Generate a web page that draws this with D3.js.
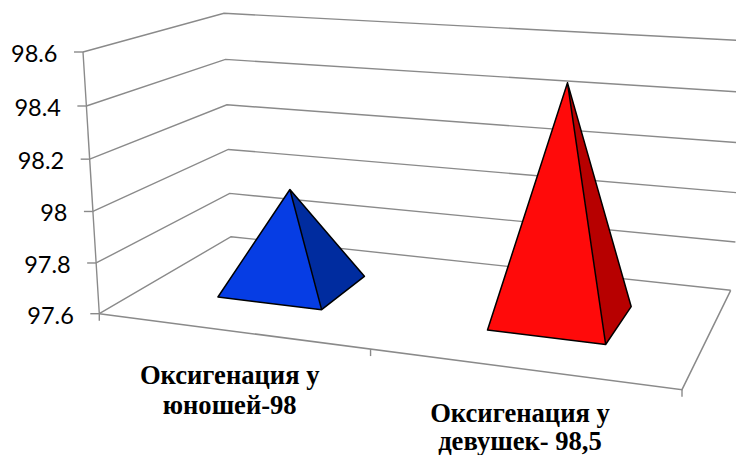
<!DOCTYPE html>
<html><head><meta charset="utf-8">
<script src="https://cdn.jsdelivr.net/npm/d3@7"></script>
<style>html,body{margin:0;background:#fff}svg{display:block}</style></head><body><svg id="chart" width="736" height="455"></svg>
<script>
// Chart data
const categories = ["Оксигенация у юношей-98", "Оксигенация у девушек- 98,5"];
const labelLines = [["Оксигенация у", "юношей-98"], ["Оксигенация у", "девушек- 98,5"]];
const values = [98, 98.5];
const tickValues = [97.6, 97.8, 98, 98.2, 98.4, 98.6];
const tickLabels = ["97.6", "97.8", "98", "98.2", "98.4", "98.6"];
const frontColors = ["#063de4", "#ff0a0a"];
const sideColors = ["#002c9f", "#b70000"];

// The box of the 3-D plot: corners of the floor and of the top plane, in screen space
const floorBox = { fl: [99.3, 313.7], fr: [682, 389.7], br: [730.7, 290.3], bl: [231, 236.7] };
const topBox = { fl: [83, 52], fr: [706, 96], br: [755, 41.2], bl: [224, 13.3] };

const svg = d3.select("#chart");
const grey = "#8a8a8a";

// Positions along the width and the depth of the floor, both in 0..1
const xBand = d3.scaleBand(categories, [0, 1]).paddingInner(0.6).paddingOuter(0.3);
const depth = d3.scaleLinear([0, 1], [0.3, 0.7]);
const valueScale = d3.scaleLinear([97.6, 98.6], [0, 1]);

// Vertical foreshortening of the value axis
const lift = v => { const w = valueScale(v); return w / (w + (1 - w) * 1.04); };

// Projective map from the unit square onto a quadrilateral
function quadMap(a, b, c, d) {
  const dx1 = b[0] - c[0], dx2 = d[0] - c[0], sx = a[0] - b[0] + c[0] - d[0];
  const dy1 = b[1] - c[1], dy2 = d[1] - c[1], sy = a[1] - b[1] + c[1] - d[1];
  const den = dx1 * dy2 - dx2 * dy1;
  const g = (sx * dy2 - dx2 * sy) / den, h = (dx1 * sy - sx * dy1) / den;
  return (u, v) => {
    const w = g * u + h * v + 1;
    return [((b[0] - a[0] + g * b[0]) * u + (d[0] - a[0] + h * d[0]) * v + a[0]) / w,
            ((b[1] - a[1] + g * b[1]) * u + (d[1] - a[1] + h * d[1]) * v + a[1]) / w];
  };
}

// Screen position of a point given by width, depth and value
function project(u, v, value) {
  const t = lift(value);
  const mix = k => d3.interpolateArray(floorBox[k], topBox[k])(t);
  return quadMap(mix("fl"), mix("fr"), mix("br"), mix("bl"))(u, v);
}

const line = d3.line();
const axisMin = tickValues[0];

// Gridlines along the left wall and the back wall
svg.append("g").selectAll("path").data(tickValues).join("path")
  .attr("d", v => line([project(0, 0, v), project(0, 1, v), project(1, 1, v)]))
  .attr("fill", "none").attr("stroke", grey).attr("stroke-width", 1.4);

// Floor outline
svg.append("path")
  .attr("d", line([project(0, 0, axisMin), project(1, 0, axisMin), project(1, 1, axisMin)]))
  .attr("fill", "none").attr("stroke", grey).attr("stroke-width", 1.5);

// Value axis and its tick marks
svg.append("path")
  .attr("d", line([project(0, 0, axisMin), project(0, 0, tickValues[5])]))
  .attr("stroke", grey).attr("stroke-width", 1.4);
svg.append("g").selectAll("line").data(tickValues).join("line")
  .attr("x1", v => project(0, 0, v)[0] - 9).attr("x2", v => project(0, 0, v)[0])
  .attr("y1", v => project(0, 0, v)[1]).attr("y2", v => project(0, 0, v)[1])
  .attr("stroke", grey).attr("stroke-width", 1.4);

// Category tick marks on the front edge of the floor
svg.append("g").selectAll("line").data([0, 0.5, 1]).join("line")
  .attr("x1", u => project(u, 0, axisMin)[0]).attr("x2", u => project(u, 0, axisMin)[0])
  .attr("y1", u => project(u, 0, axisMin)[1]).attr("y2", u => project(u, 0, axisMin)[1] + 7)
  .attr("stroke", grey).attr("stroke-width", 1.4);

// Value labels
svg.append("g").selectAll("text").data(tickValues).join("text")
  .attr("x", v => project(0, 0, v)[0] - 25.5)
  .attr("y", v => project(0, 0, v)[1] + 10)
  .attr("text-anchor", "end")
  .attr("font-family", "Lato, 'Open Sans', sans-serif").attr("font-size", 23.5).attr("fill", "#000")
  .text((v, i) => tickLabels[i]);

// Pyramids: front and right faces, apex above the centre of the base
const pyramids = svg.append("g").selectAll("g").data(categories).join("g");
pyramids.each(function (c, i) {
  const u0 = xBand(c), u1 = u0 + xBand.bandwidth();
  const a = project(u0, depth(0), axisMin), b = project(u1, depth(0), axisMin);
  const d = project(u1, depth(1), axisMin);
  const apex = project((u0 + u1) / 2, depth(0.5), values[i]);
  const g = d3.select(this);
  g.append("path").attr("d", line([apex, b, d]) + "Z").attr("fill", sideColors[i]);
  g.append("path").attr("d", line([apex, a, b]) + "Z").attr("fill", frontColors[i]);
  g.append("path").attr("d", line([a, b, d, apex]) + "Z M" + apex + "L" + b)
    .attr("fill", "none").attr("stroke", "#000").attr("stroke-width", 1.5).attr("stroke-linejoin", "round");
});

// Category labels
const labelX = d3.scalePoint(categories, [229.7, 520]);
const labelY = d3.scalePoint(categories, [384, 421.5]);
const labelGap = d3.scalePoint(categories, [30, 28]);
const labels = svg.append("g").selectAll("text").data(categories).join("text")
  .attr("text-anchor", "middle")
  .attr("font-family", "'Liberation Serif', serif").attr("font-weight", "bold").attr("font-size", 26.6).attr("fill", "#000");
labels.each(function (c, i) {
  d3.select(this).selectAll("tspan").data(labelLines[i]).join("tspan")
    .attr("x", labelX(c)).attr("y", (t, k) => labelY(c) + k * labelGap(c)).text(t => t);
});
</script></body></html>
